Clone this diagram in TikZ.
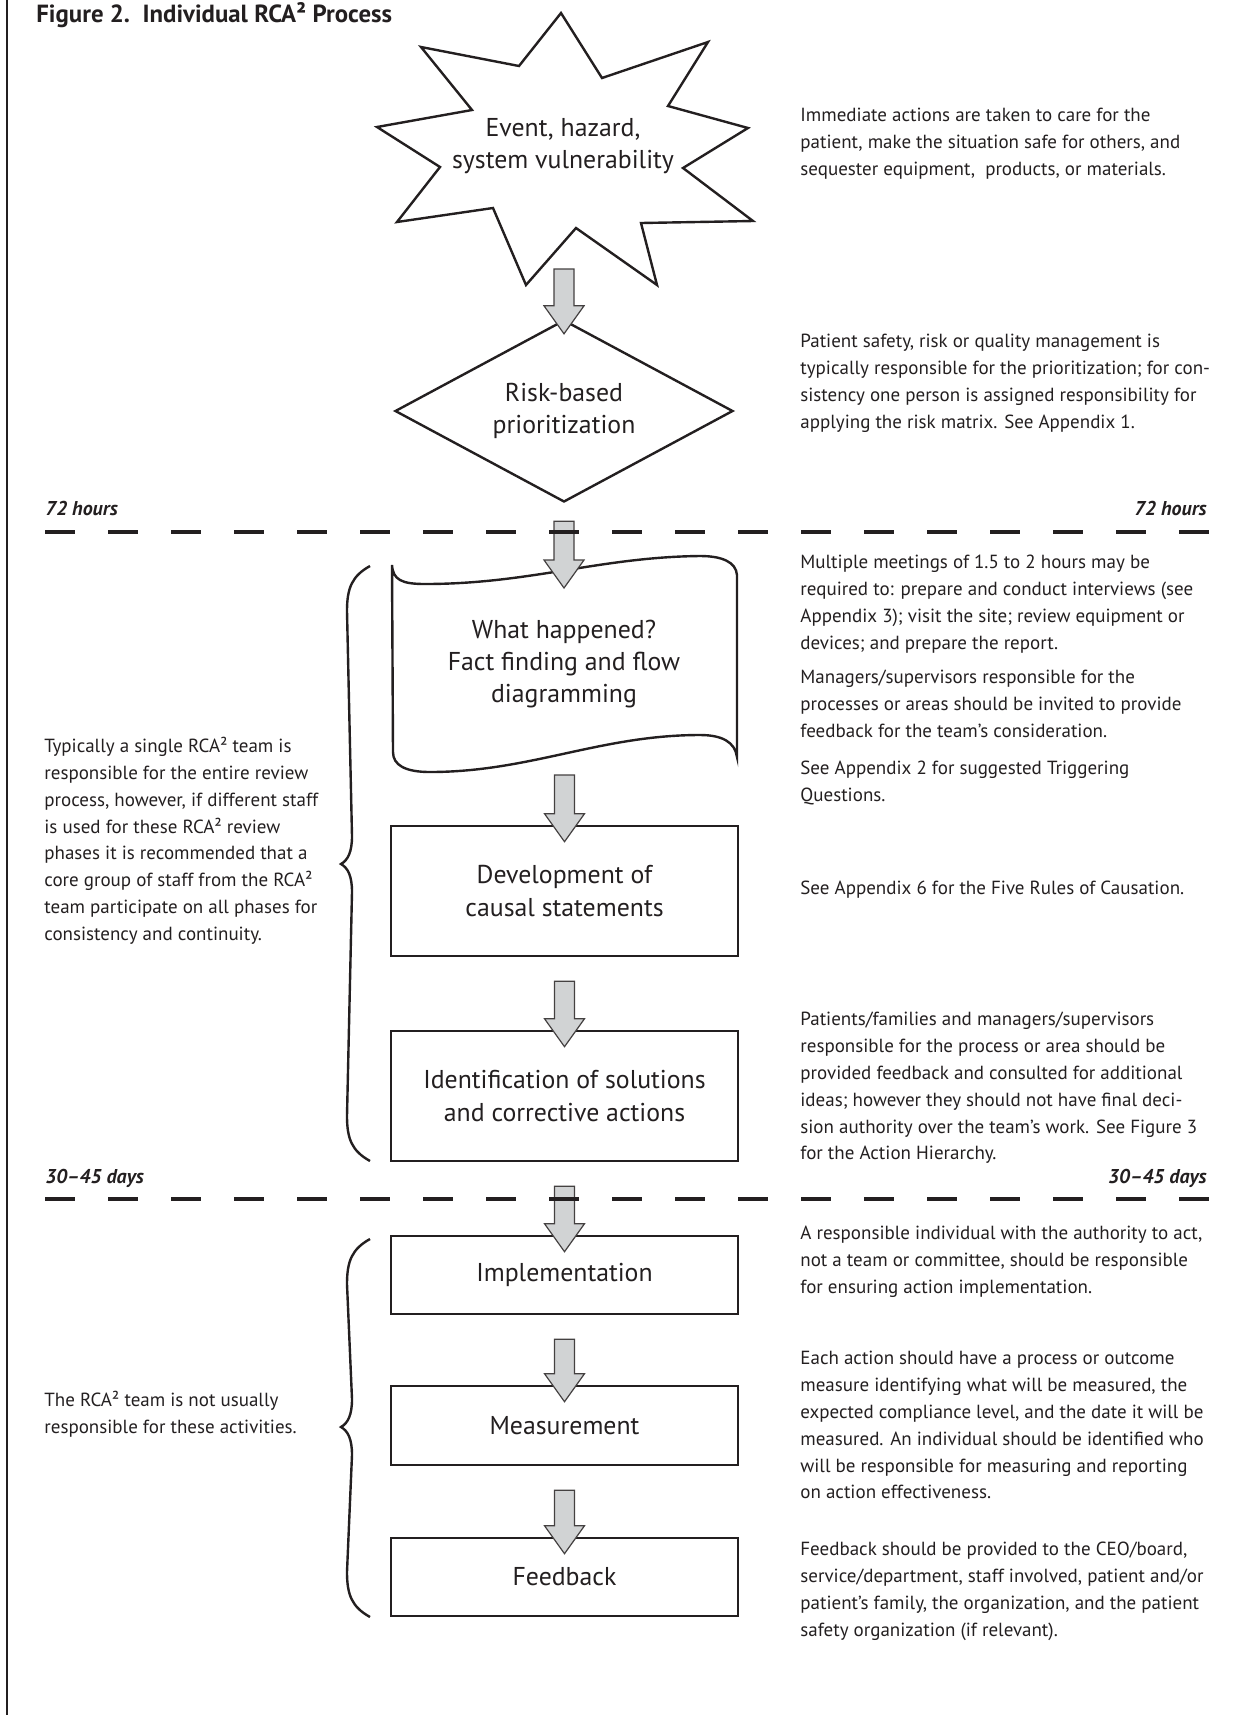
\documentclass[tikz,border=0pt]{standalone}
\usepackage{fontspec}
\setmainfont{PT Sans}
\usetikzlibrary{shapes.geometric,calc,positioning}

\definecolor{ink}{RGB}{35,31,32}
\definecolor{arrowgray}{RGB}{209,211,212}

\tikzset{
  frame/.style={draw=ink, line width=0.75pt},
  shapeline/.style={draw=ink, line width=1.2pt, line join=miter},
  flowtext/.style={inner sep=0pt, align=center, text=ink, font=\fontsize{12.9}{16.1}\selectfont},
  stepbox/.style={flowtext, draw=ink, line width=1.3pt, minimum width=173.5pt},
  riskbox/.style={flowtext, diamond, draw=ink, line width=1.2pt, aspect=1.85, minimum width=169pt, minimum height=91pt},
  note/.style={anchor=north west, inner sep=0pt, align=left, text=ink, font=\fontsize{9.5}{13.4}\selectfont},
  titletext/.style={anchor=north west, inner sep=0pt, text=ink, font=\fontsize{12.4}{14}\selectfont\bfseries},
  timelabel/.style={inner sep=0pt, text=ink, font=\fontsize{10}{12}\selectfont\bfseries\itshape},
  timeline/.style={draw=ink, line width=2pt, dash pattern=on 15pt off 16.5pt},
  sidebrace/.style={draw=ink, line width=1.2pt},
  blockarrow/.style={draw=ink!85, line width=0.6pt, fill=arrowgray, line join=miter},
}

% Grey block arrow from #1 down to its tip #2
\newcommand{\BlockArrow}[2]{%
  \draw[blockarrow] let \p1=(#1), \p2=(#2) in
    (\x2-5pt,\y1) -- (\x2+5pt,\y1) -- (\x2+5pt,\y2+14pt) -- (\x2+10pt,\y2+14pt)
    -- (\x2,\y2) -- (\x2-10pt,\y2+14pt) -- (\x2-5pt,\y2+14pt) -- cycle;%
}

% Curly brace left of the boxes: top, cusp and bottom y
\newcommand{\SideBrace}[3]{%
  \draw[sidebrace] (370,#1) .. controls (352,#1+10) and (347,#1+22) .. (347,#1+45)
    -- (352,#2-28) .. controls (352,#2-12) and (348,#2-4) .. (341,#2)
    .. controls (348,#2+4) and (352,#2+12) .. (352,#2+28)
    -- (347,#3-45) .. controls (347,#3-22) and (352,#3-10) .. (370,#3);%
}

\begin{document}
\begin{tikzpicture}[x=0.5pt, y=-0.5pt]
  % Parameters definitions
  \def\xmid{564.5} % X position of the flow
  \def\xnote{800} % X position of the notes on the right
  \def\xside{44} % X position of the notes on the left
  \def\xlab{45} % Left end of the time lines
  \def\xlabr{1207} % Right end of the time labels

  \useasboundingbox (0,0) rectangle (1244,1715);
  \draw[frame] (7,0) -- (7,1715);

  \node[titletext] (title) at (36,2) {Figure 2.\ \ Individual RCA² Process};

  % Star
  \draw[shapeline] (561,13) -- (602,78) -- (708,42) -- (668,106) -- (748,128)
    -- (683,168) -- (753,221) -- (641,223) -- (657,285) -- (576,228)
    -- (526,285) -- (493,208) -- (397,222) -- (440,167) -- (377,127)
    -- (472,110) -- (421,47) -- (519,66) -- cycle;
  \node[flowtext] (event) at (563,146) {Event, hazard,\\system vulnerability};
  \coordinate[] (evtail) at (564,269);

  % Diamond
  \node[riskbox] (risk) at (564,411) {Risk-based\\prioritization};

  % Wavy sheet
  \draw[shapeline] (392,565) .. controls (393,580) and (402,584) .. (425,584)
    .. controls (530,584) and (600,557) .. (700,556)
    .. controls (722,556) and (736,562) .. (737,575)
    -- (737,757)
    .. controls (735,742) and (722,735) .. (700,735)
    .. controls (600,735) and (530,772) .. (430,772)
    .. controls (405,772) and (393,765) .. (393,752) -- cycle;
  \node[flowtext] (what) at (564,664) {What happened?\\Fact finding and flow\\diagramming};
  \coordinate[] (whattop) at (564,571);
  \coordinate[] (whatbot) at (564,753);

  % Boxes
  \node[stepbox, minimum height=65pt] (cause) at (\xmid,891) {Development of\\causal statements};
  \node[stepbox, minimum height=65pt] (solve) at (\xmid,1096) {Identification of solutions\\and corrective actions};
  \node[stepbox, minimum height=39pt] (impl) at (\xmid,1275) {Implementation};
  \node[stepbox, minimum height=39.5pt] (meas) at (\xmid,1425.5) {Measurement};
  \node[stepbox, minimum height=39pt] (feed) at (\xmid,1577) {Feedback};

  % Arrows
  \BlockArrow{evtail}{$(risk.north)+(0,15)$}
  \BlockArrow{$(risk.south)+(0,18)$}{$(whattop)+(0,17)$}
  \BlockArrow{$(whatbot)+(0,22)$}{$(cause.north)+(0,17)$}
  \BlockArrow{$(cause.south)+(0,24)$}{$(solve.north)+(0,17)$}
  \BlockArrow{$(solve.south)+(0,24)$}{$(impl.north)+(0,17)$}
  \BlockArrow{$(impl.south)+(0,24)$}{$(meas.north)+(0,17)$}
  \BlockArrow{$(meas.south)+(0,24)$}{$(feed.north)+(0,17)$}

  % Time lines
  \draw[timeline] (\xlab,532) -- (1215,532);
  \draw[timeline] (\xlab,1199) -- (1215,1199);
  \node[timelabel, anchor=west] (hoursl) at (\xlab,508) {72 hours};
  \node[timelabel, anchor=east] (hoursr) at (\xlabr,508) {72 hours};
  \node[timelabel, anchor=west] (daysl) at (\xlab,1178) {30--45 days};
  \node[timelabel, anchor=east] (daysr) at (\xlabr,1178) {30--45 days};

  % Braces
  \SideBrace{566}{864}{1161}
  \SideBrace{1239}{1427}{1617}

  % Notes on the left
  \node[note] (teamnote) at (\xside,737) {Typically a single RCA² team is\\
    responsible for the entire review\\process, however, if different staff\\
    is used for these RCA² review\\phases it is recommended that a\\
    core group of staff from the RCA²\\team participate on all phases for\\
    consistency and continuity.};
  \node[note] (laternote) at (\xside,1391) {The RCA² team is not usually\\
    responsible for these activities.};

  % Notes on the right
  \node[note] (eventnote) at (\xnote,108) {Immediate actions are taken to care for the\\
    patient, make the situation safe for others, and\\
    sequester equipment,\ \ products, or materials.};
  \node[note] (risknote) at (\xnote,334) {Patient safety, risk or quality management is\\
    typically responsible for the prioritization; for con-\\
    sistency one person is assigned responsibility for\\
    applying the risk matrix. See Appendix 1.};
  \node[note] (meetnote) at (\xnote,555) {Multiple meetings of 1.5 to 2 hours may be\\
    required to: prepare and conduct interviews (see\\
    Appendix 3); visit the site; review equipment or\\
    devices; and prepare the report.};
  \node[note] (mgrnote) at (\xnote,670) {Managers/supervisors responsible for the\\
    processes or areas should be invited to provide\\
    feedback for the team’s consideration.};
  \node[note] (trignote) at (\xnote,761) {See Appendix 2 for suggested Triggering\\Questions.};
  \node[note] (causenote) at (\xnote,881) {See Appendix 6 for the Five Rules of Causation.};
  \node[note] (solvenote) at (\xnote,1012) {Patients/families and managers/supervisors\\
    responsible for the process or area should be\\
    provided feedback and consulted for additional\\
    ideas; however they should not have final deci-\\
    sion authority over the team’s work. See Figure 3\\
    for the Action Hierarchy.};
  \node[note] (implnote) at (\xnote,1226) {A responsible individual with the authority to act,\\
    not a team or committee, should be responsible\\
    for ensuring action implementation.};
  \node[note] (measnote) at (\xnote,1351) {Each action should have a process or outcome\\
    measure identifying what will be measured, the\\
    expected compliance level, and the date it will be\\
    measured. An individual should be identified who\\
    will be responsible for measuring and reporting\\
    on action effectiveness.};
  \node[note] (feednote) at (\xnote,1542) {Feedback should be provided to the CEO/board,\\
    service/department, staff involved, patient and/or\\
    patient’s family, the organization, and the patient\\
    safety organization (if relevant).};
\end{tikzpicture}
\end{document}
